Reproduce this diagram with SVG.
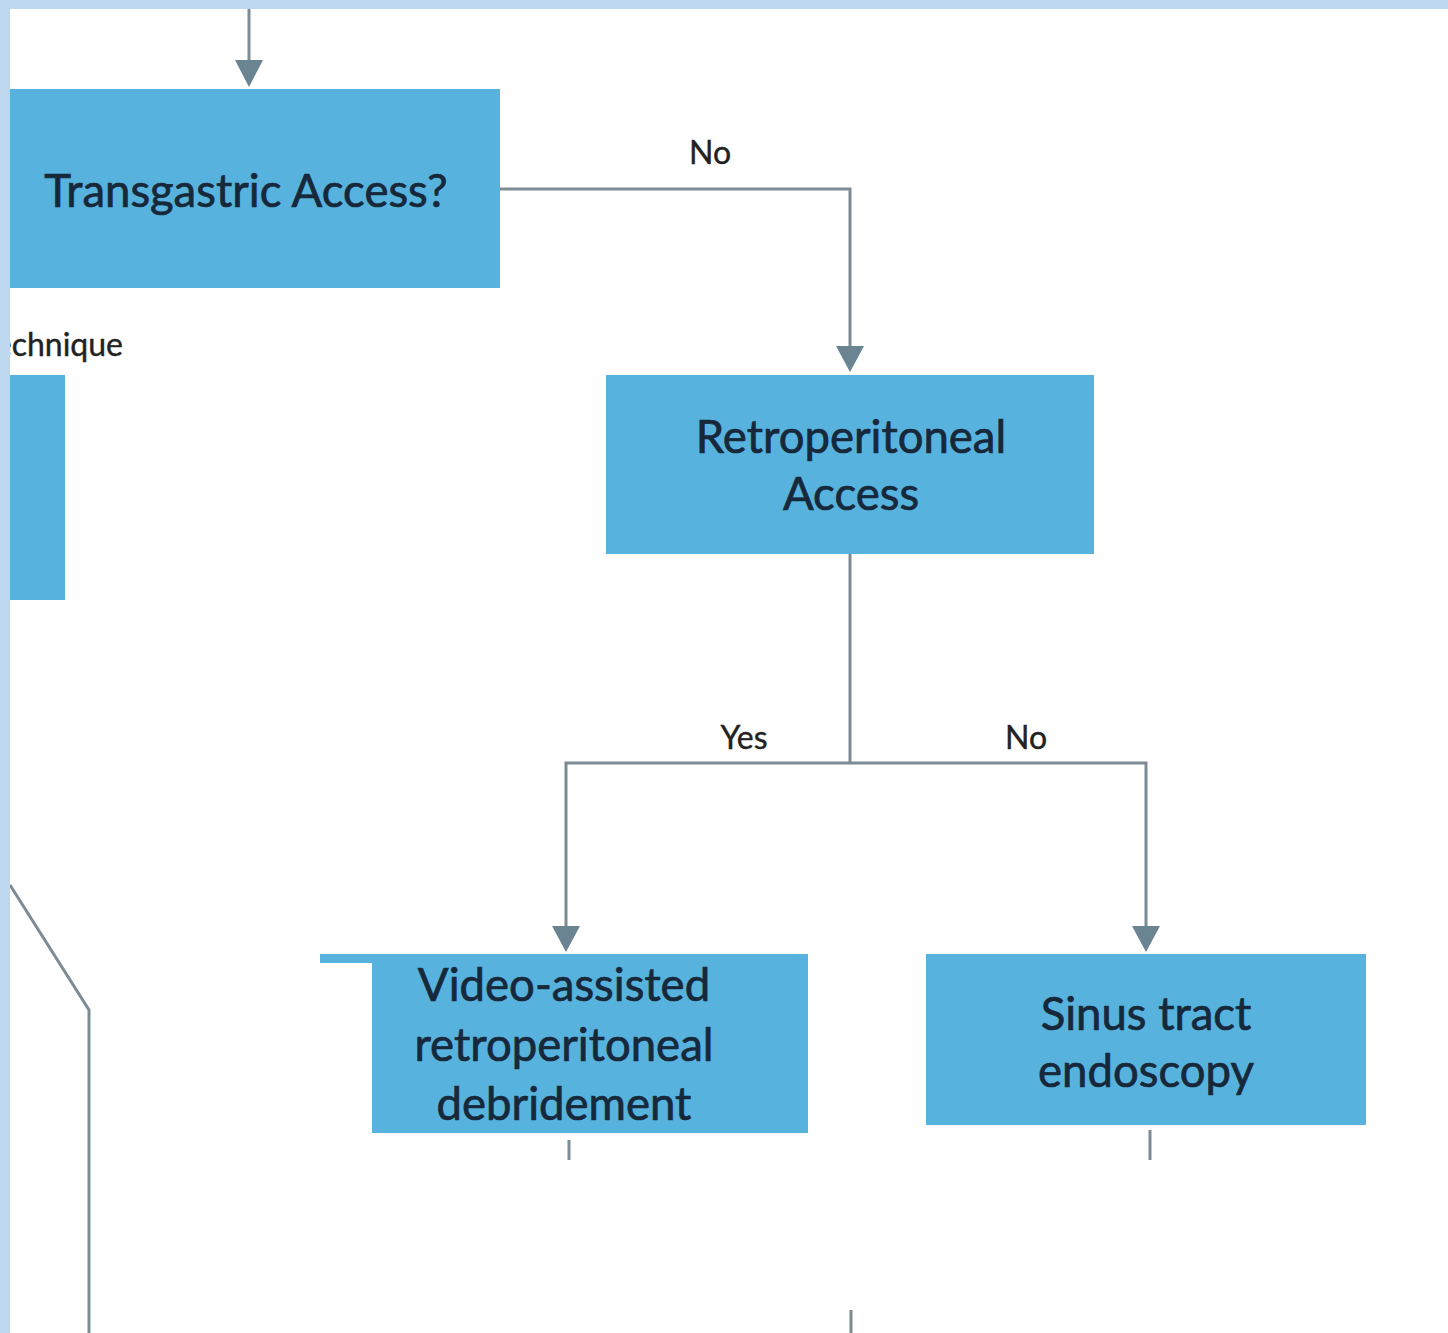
<svg xmlns="http://www.w3.org/2000/svg" width="1448" height="1333" viewBox="0 0 1448 1333">
<defs>
<style>
.box{fill:#57b3dd;}
.t{font-family:Lato,"Liberation Sans",sans-serif;fill:#16283a;stroke:#16283a;stroke-width:0.7;text-anchor:middle;}
.big{font-size:45.5px;}
.lbl{font-size:32px;fill:#222;stroke:#222;stroke-width:0.4;}
.c{stroke:#7d8b94;stroke-width:3;fill:none;}
.ah{fill:#6b8491;}
</style>
</defs>
<rect x="0" y="0" width="1448" height="1333" fill="#bcd7ee"/>
<rect x="10" y="9" width="1438" height="1324" fill="#ffffff"/>
<g id="connectors">
<line class="c" x1="249" y1="9" x2="249" y2="62"/>
<polygon class="ah" points="235,60 263,60 249,87"/>
<polyline class="c" points="500,189 850,189 850,348"/>
<polygon class="ah" points="836,346 864,346 850,372"/>
<polyline class="c" points="850,554 850,763"/>
<polyline class="c" points="566,928 566,763 1146,763 1146,928"/>
<polygon class="ah" points="552,926 580,926 566,952"/>
<polygon class="ah" points="1132,926 1160,926 1146,952"/>
<line class="c" x1="569" y1="1140" x2="569" y2="1160"/>
<line class="c" x1="1150" y1="1130" x2="1150" y2="1160"/>
<line class="c" x1="851" y1="1310" x2="851" y2="1333"/>
<polyline class="c" points="10,885 89,1010 89,1333"/>
<text class="t lbl" x="710" y="164">No</text>
<text class="t lbl" x="744" y="749">Yes</text>
<text class="t lbl" x="1026" y="749">No</text>
</g>
<g id="node-transgastric">
<rect class="box" x="10" y="89" width="490" height="199"/>
<text class="t big" x="246" y="207">Transgastric Access?</text>
</g>
<g id="node-technique">
<text class="t lbl" x="123" y="356" style="text-anchor:end">Technique</text>
<rect class="box" x="10" y="375" width="55" height="225"/>
</g>
<g id="node-retroperitoneal">
<rect class="box" x="606" y="375" width="488" height="179"/>
<text class="t big" x="851" y="453">Retroperitoneal</text>
<text class="t big" x="851" y="510">Access</text>
</g>
<g id="node-video">
<rect class="box" x="320" y="954" width="488" height="179"/>
<rect x="320" y="963" width="52" height="175" fill="#ffffff"/>
<text class="t big" x="564" y="1001">Video-assisted</text>
<text class="t big" x="564" y="1061">retroperitoneal</text>
<text class="t big" x="564" y="1120">debridement</text>
</g>
<g id="node-sinus">
<rect class="box" x="926" y="954" width="440" height="171"/>
<text class="t big" x="1146" y="1030">Sinus tract</text>
<text class="t big" x="1146" y="1087">endoscopy</text>
</g>
<rect x="0" y="0" width="10" height="1333" fill="#bcd7ee"/>
</svg>
